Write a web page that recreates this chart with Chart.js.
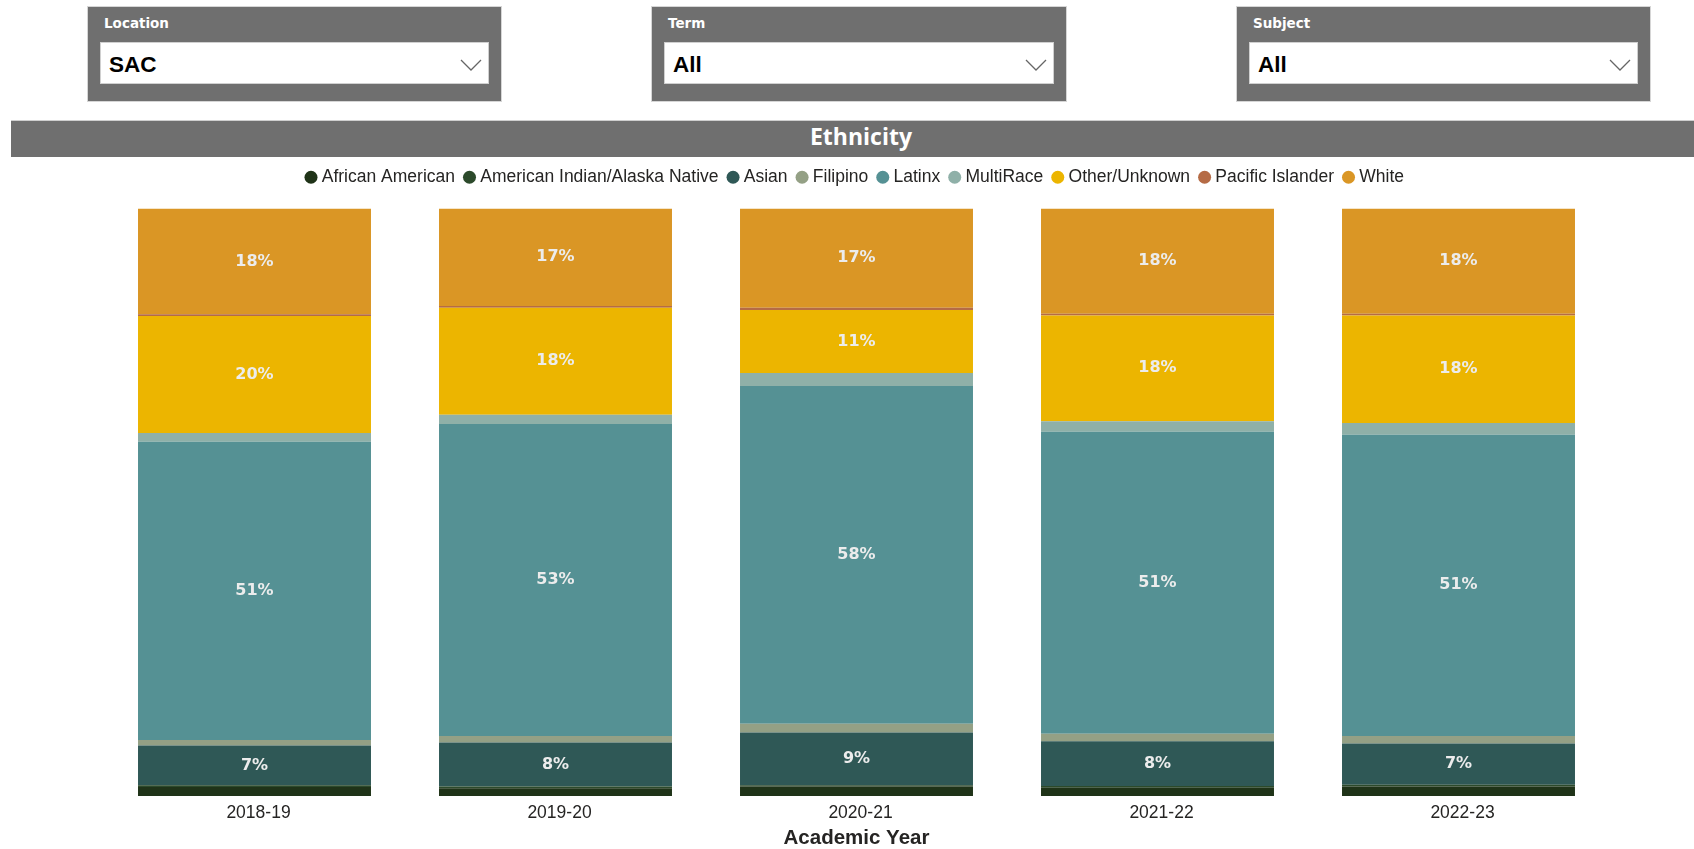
<!DOCTYPE html>
<html>
<head>
<meta charset="utf-8">
<script src="https://cdn.jsdelivr.net/npm/chart.js@4.4.1/dist/chart.umd.min.js"></script>
<style>
	body { margin: 0; width: 1694px; height: 849px; background: #fff; overflow: hidden; position: relative; font-family: "Liberation Sans", Arial, sans-serif; }
	.filter { position: absolute; top: 6px; width: 415px; height: 96px; background: #6f6f6f; box-sizing: border-box; border: 1px solid #d6d6d6; }
	.filter .lbl { position: absolute; left: 16px; top: 8px; color: #fff; font: bold 13.5px "DejaVu Sans", sans-serif; }
	.filter .dd { position: absolute; left: 12px; right: 12px; top: 35px; height: 42px; background: #fff; border: 1px solid #d0d0d0; box-sizing: border-box; }
	.filter .val { position: absolute; left: 8px; top: 9px; font: bold 22.5px "Liberation Sans", Arial, sans-serif; color: #000; }
	.filter svg { position: absolute; right: 6px; top: 16px; }
	#band { position: absolute; left: 11px; right: 0; top: 120px; height: 36px; background: #6f6f6f; border-top: 1px solid #cfcfcf; color: #fff; font: bold 23px "Open Sans", sans-serif; line-height: 30px; }
	#band span { position: absolute; left: 850px; transform: translateX(-50%); }
	#wrap { position: absolute; left: 0; top: 156px; width: 1694px; height: 695px; }
</style>
</head>
<body>
<div class="filter" style="left:87px"><div class="lbl">Location</div><div class="dd"><div class="val">SAC</div><svg width="22" height="12"><polyline points="1,1 11,11 21,1" fill="none" stroke="#666" stroke-width="1.3"/></svg></div></div>
<div class="filter" style="left:651px;width:416px"><div class="lbl">Term</div><div class="dd"><div class="val">All</div><svg width="22" height="12"><polyline points="1,1 11,11 21,1" fill="none" stroke="#666" stroke-width="1.3"/></svg></div></div>
<div class="filter" style="left:1236px"><div class="lbl">Subject</div><div class="dd"><div class="val">All</div><svg width="22" height="12"><polyline points="1,1 11,11 21,1" fill="none" stroke="#666" stroke-width="1.3"/></svg></div></div>
<div id="band"><span>Ethnicity</span></div>
<div id="wrap"><canvas id="chart"></canvas></div>
<script>
// academic years on the x axis
const years = ["2018-19", "2019-20", "2020-21", "2021-22", "2022-23"];

// share of students (%) per ethnicity, one value per year
const africanAmerican = [1.5, 1.3, 1.6, 1.4, 1.6];
const americanIndian = [0.3, 0.3, 0.2, 0.3, 0.3];
const asian = [6.8, 7.5, 9.0, 7.6, 7.0];
const filipino = [0.9, 1.1, 1.5, 1.3, 1.3];
const latinx = [50.8, 53.1, 57.5, 51.4, 51.3];
const multiRace = [1.5, 1.6, 2.2, 1.8, 2.0];
const otherUnknown = [19.9, 18.2, 10.7, 18.0, 18.3];
const pacificIslander = [0.3, 0.3, 0.4, 0.3, 0.3];
const white = [18.0, 16.6, 16.9, 17.9, 17.9];

const series = [
	{ label: "African American", data: africanAmerican, color: "#1f3318" },
	{ label: "American Indian/Alaska Native", data: americanIndian, color: "#2c4a2b" },
	{ label: "Asian", data: asian, color: "#2f5856" },
	{ label: "Filipino", data: filipino, color: "#94a085" },
	{ label: "Latinx", data: latinx, color: "#559194" },
	{ label: "MultiRace", data: multiRace, color: "#8fb0a8" },
	{ label: "Other/Unknown", data: otherUnknown, color: "#ecb500" },
	{ label: "Pacific Islander", data: pacificIslander, color: "#b56b45" },
	{ label: "White", data: white, color: "#da9625" },
];

// push the plot down a bit below the legend
const legendGap = {
	id: "legendGap",
	beforeInit(chart) {
		const fit = chart.legend.fit;
		chart.legend.fit = function () {
			fit.bind(chart.legend)();
			this.height += 12.5;
		};
	},
};

// percent labels in the middle of the bigger segments
const segmentLabels = {
	id: "segmentLabels",
	afterDatasetsDraw(chart) {
		const ctx = chart.ctx;
		ctx.save();
		ctx.font = "bold 16px 'DejaVu Sans', sans-serif";
		ctx.fillStyle = "#ececec";
		ctx.textAlign = "center";
		ctx.textBaseline = "middle";
		chart.data.datasets.forEach((ds, i) => {
			const meta = chart.getDatasetMeta(i);
			meta.data.forEach((bar, j) => {
				const v = ds.data[j];
				if (v < 5) return;
				const p = bar.getProps(["x", "y", "base"], true);
				ctx.fillText(Math.round(v) + "%", p.x, (p.y + p.base) / 2);
			});
		});
		ctx.restore();
	},
};

const ctx = document.getElementById("chart");
new Chart(ctx, {
	type: "bar",
	data: {
		labels: years,
		datasets: series.map((s) => ({
			label: s.label,
			data: s.data,
			backgroundColor: s.color,
			borderWidth: 0,
			categoryPercentage: 1,
			barPercentage: 0.774,
		})),
	},
	options: {
		responsive: true,
		maintainAspectRatio: false,
		animation: false,
		layout: { padding: { left: 104, right: 85, top: 0, bottom: 0 } },
		plugins: {
			legend: {
				position: "top",
				labels: {
					usePointStyle: true,
					pointStyle: "circle",
					boxWidth: 4,
					boxHeight: 9.2,
					padding: 12.5,
					color: "#252423",
					font: { family: "'Liberation Sans', Arial, sans-serif", size: 17.5 },
				},
			},
			tooltip: { enabled: false },
		},
		scales: {
			x: {
				stacked: true,
				grid: { display: false, drawTicks: false, tickLength: 0 },
				border: { display: false },
				ticks: { color: "#252423", padding: 7, labelOffset: 4, font: { family: "'Liberation Sans', Arial, sans-serif", size: 17.5 } },
				title: {
					display: true,
					text: "Academic Year",
					color: "#252423",
					padding: { top: -4.5, bottom: 0 },
					font: { family: "'Liberation Sans', Arial, sans-serif", size: 20.5, weight: "bold" },
				},
			},
			y: { stacked: true, display: false, min: 0, max: 100 },
		},
	},
	plugins: [legendGap, segmentLabels],
});
</script>
</body>
</html>
